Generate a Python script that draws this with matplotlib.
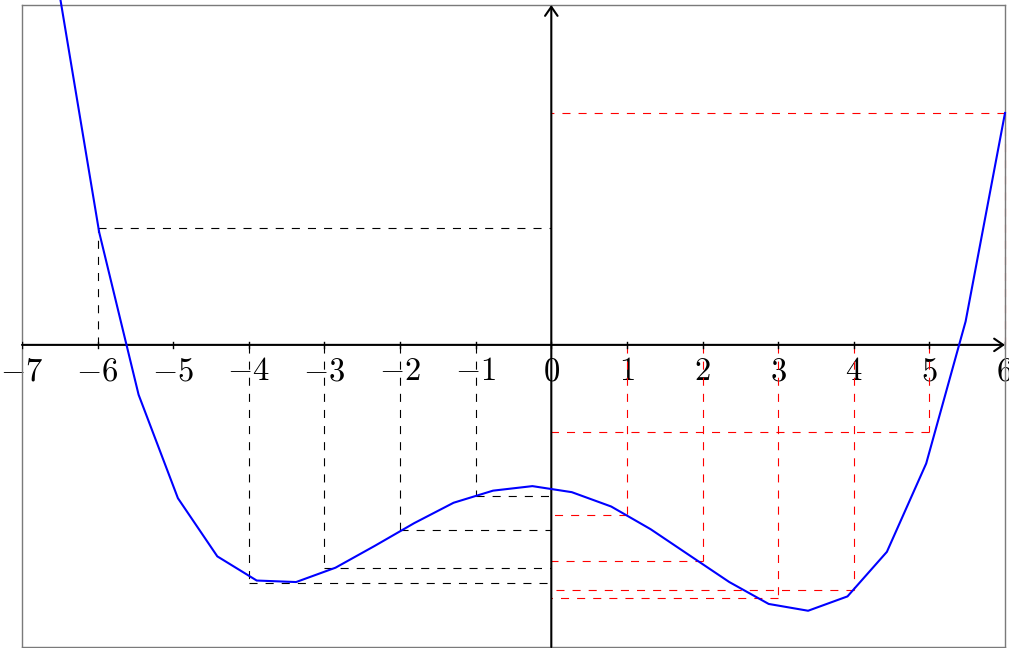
import numpy as np
import matplotlib.pyplot as plt

plt.rcParams['mathtext.fontset'] = 'cm'
plt.rcParams['lines.scale_dashes'] = False

# -----------------------------------------------
# Curva muestreada (dominio -6.5 a 6, 25 muestras)
# -----------------------------------------------
x_curva = [-6.5, -5.979, -5.458, -4.938, -4.417, -3.896, -3.375, -2.854,
           -2.333, -1.813, -1.292, -0.771, -0.25, 0.271, 0.792, 1.313,
           1.833, 2.354, 2.875, 3.396, 3.917, 4.438, 4.958, 5.479, 6.0]
y_curva = [4.62, 1.49, -0.66, -2.03, -2.80, -3.12, -3.14, -2.95,
           -2.66, -2.36, -2.09, -1.93, -1.87, -1.95, -2.14, -2.44,
           -2.79, -3.14, -3.43, -3.52, -3.33, -2.74, -1.57, 0.31, 3.07]

# valores marcados con trazos (negros x<0, rojos x>0)
x_negro = [-6, -4, -3, -2, -1]
y_negro = [1.55, -3.15, -2.95, -2.45, -2.00]
x_rojo = [1, 2, 3, 4, 5, 6]
y_rojo = [-2.25, -2.86, -3.35, -3.25, -1.16, 3.07]

ticks_x = list(range(-7, 7))

fig = plt.figure(figsize=(10.09, 6.48), dpi=100)
ax = fig.add_axes([22 / 1009, 1 / 648, 983 / 1009, 642 / 648])
ax.set_xlim(-7, 6)
ax.set_ylim(-4, 4.5)
ax.set_xticks([])
ax.set_yticks([])
for s in ax.spines.values():
    s.set_color('#7a7a7a')
    s.set_linewidth(1.0)

trazo = (0, (5.8, 5.8))

# líneas de trazos hasta los ejes
for xv, yv in zip(x_negro, y_negro):
    ax.plot([xv, xv], [0, yv], color='black', lw=0.8, ls=trazo, zorder=2)
    ax.plot([xv, 0], [yv, yv], color='black', lw=0.8, ls=trazo, zorder=2)
for xv, yv in zip(x_rojo, y_rojo):
    ax.plot([xv, xv], [0, yv], color='red', lw=0.8, ls=trazo, zorder=2,
            clip_on=False)
    ax.plot([xv, 0], [yv, yv], color='red', lw=0.8, ls=trazo, zorder=2)

# etiquetas del eje x (el eje vertical se dibuja encima del 0)
for t in ticks_x:
    ax.text(t, -0.47, r'$%d$' % t, ha='center', va='baseline',
            fontsize=23.5, zorder=1, clip_on=False)
    ax.plot([t, t], [-0.04, 0.04], color='black', lw=1.0, zorder=3)

# ejes con flecha
flecha = dict(arrowstyle='->,head_length=0.65,head_width=0.45', lw=1.5,
              color='black', shrinkA=0, shrinkB=0)
ax.annotate('', xy=(6, 0), xytext=(-7, 0), arrowprops=flecha, zorder=3,
            annotation_clip=False)
ax.annotate('', xy=(0, 4.5), xytext=(0, -4), arrowprops=flecha, zorder=3,
            annotation_clip=False)

# curva
ax.plot(x_curva, y_curva, color='blue', lw=1.5, zorder=4, clip_on=False)

fig.savefig('out.png', dpi=100)
